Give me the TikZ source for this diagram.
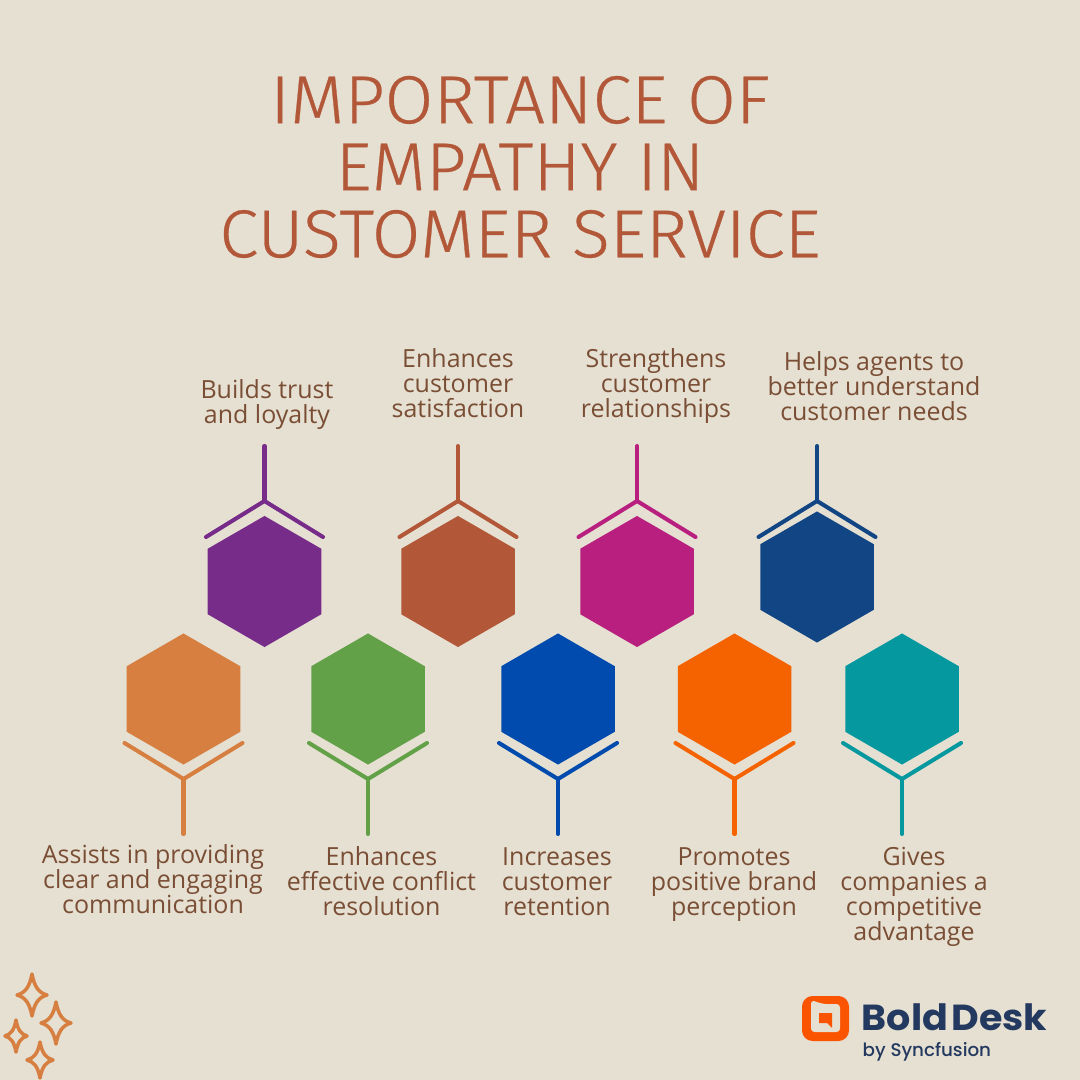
\documentclass[tikz,border=0pt]{standalone}
\usepackage{fontspec}
\usepackage{xcolor}
\usetikzlibrary{shapes.geometric}
\setmainfont{Open Sans}
\newfontfamily\titlefont[UprightFont=* Light, FakeStretch=1.04, FakeBold=.4]{Fira Sans}
\newfontfamily\logofont[UprightFont=* Bold, FakeStretch=1.05]{Poppins}
\newfontfamily\logosubfont[UprightFont=* Medium]{Poppins}
\definecolor{paper}{HTML}{E5E0D2}
\definecolor{titlered}{HTML}{B25738}
\definecolor{labelbrown}{HTML}{7A4E34}
\definecolor{hexpurple}{HTML}{772C8A}
\definecolor{hexrust}{HTML}{B25738}
\definecolor{hexmagenta}{HTML}{B81F7E}
\definecolor{hexnavy}{HTML}{124584}
\definecolor{hexsand}{HTML}{D67F40}
\definecolor{hexgreen}{HTML}{62A148}
\definecolor{hexblue}{HTML}{004BAD}
\definecolor{hexorange}{HTML}{F56200}
\definecolor{hexteal}{HTML}{05989F}
\definecolor{logoink}{HTML}{24395F}
\definecolor{logoorange}{HTML}{FA5400}
\tikzset{hexcell/.style={regular polygon, regular polygon sides=6, shape border rotate=30,
   minimum size=1.31cm, inner sep=0pt, outer sep=0pt},
 chevline/.style={line width=1.15pt, line cap=round, line join=miter},
 sidetext/.style={text=labelbrown, align=center, inner sep=0pt,
   font=\fontsize{7.1}{7.11}\selectfont},
 sparkle/.style={draw=hexsand, line width=1pt, line join=round},
 }

\begin{document}
\begin{tikzpicture}[x=.01cm, y=-.01cm]
        \fill[paper] (0, 0) rectangle (1080, 1080);
        \useasboundingbox (0, 0) rectangle (1080, 1080);
        \node[text=titlered, align=center, inner sep=0pt, font=\titlefont\fontsize{19.3}{19.06}\selectfont] (title) at (520, 167)
            {IMPORTANCE OF\\EMPATHY IN\\CUSTOMER SERVICE};
        % upper row, stems go up
        \foreach \n/\x/\y/\c/\lx/\ly/\txt in {
            trust/264.5/581.5/hexpurple/267/405/{Builds trust\\and loyalty},
            satisfaction/458/581.5/hexrust/458/383.5/{Enhances\\customer\\satisfaction},
            relations/637/581.5/hexmagenta/656/386.5/{Strengthens\\customer\\relationships},
            needs/817/577/hexnavy/874/386/{Helps agents to\\better understand\\customer needs}} {
            \node[hexcell, fill=\c] (hex\n) at (\x, \y) {};
            \node[sidetext] (lab\n) at (\lx, \ly) {\txt};
            \coordinate (apex\n) at (\x, 501);
            \coordinate (stem\n) at (\x, 446);
            \coordinate (wingl\n) at (\x-58.5, 537);
            \coordinate (wingr\n) at (\x+58.5, 537);
            \draw[chevline, \c] (wingl\n) -- (apex\n) -- (wingr\n);
            \draw[chevline, \c] (apex\n) -- (stem\n);
        }
        % lower row, stems go down
        \foreach \n/\x/\y/\c/\lx/\ly/\txt in {
            clear/183.5/699/hexsand/153/879/{Assists in providing\\clear and engaging\\communication},
            conflict/368/699/hexgreen/381.5/881/{Enhances\\effective conflict\\resolution},
            retention/558/699/hexblue/557/882/{Increases\\customer\\retention},
            brand/734.5/699/hexorange/734/885/{Promotes\\positive brand\\perception},
            edge/902/699/hexteal/914/896.5/{Gives\\companies a\\competitive\\advantage}} {
            \node[hexcell, fill=\c] (hex\n) at (\x, \y) {};
            \node[sidetext] (lab\n) at (\lx, \ly) {\txt};
            \coordinate (apex\n) at (\x, 779);
            \coordinate (stem\n) at (\x, 834);
            \coordinate (wingl\n) at (\x-59, 743);
            \coordinate (wingr\n) at (\x+59, 743);
            \draw[chevline, \c] (wingl\n) -- (apex\n) -- (wingr\n);
            \draw[chevline, \c] (apex\n) -- (stem\n);
        }
        % sparkles
        \foreach \x/\y/\rx/\ry in {32/995/15/21, 56/1023/15/21, 16/1036/11/16, 40/1060/13/18} {
            \draw[sparkle] (\x, \y-\ry)
                .. controls (\x+.15*\rx, \y-.4*\ry) and (\x+.45*\rx, \y-.1*\ry) .. (\x+\rx, \y)
                .. controls (\x+.45*\rx, \y+.1*\ry) and (\x+.15*\rx, \y+.4*\ry) .. (\x, \y+\ry)
                .. controls (\x-.15*\rx, \y+.4*\ry) and (\x-.45*\rx, \y+.1*\ry) .. (\x-\rx, \y)
                .. controls (\x-.45*\rx, \y-.1*\ry) and (\x-.15*\rx, \y-.4*\ry) .. cycle;
        }
        % logo
        \fill[logoorange, rounded corners=3pt] (802, 996) rectangle (849, 1041);
        \fill[paper, rounded corners=1pt] (811, 1000) -- (823, 1004) -- (840, 1004) -- (840, 1032) -- (811, 1032) -- cycle;
        \fill[logoorange] (819, 1013) -- (832, 1013) -- (832, 1028) -- (827, 1023) -- (819, 1023) -- cycle;
        \node[anchor=base west, inner sep=0pt, text=logoink, font=\logofont\fontsize{10.3}{10}\selectfont] (logoname) at (861, 1030) {Bold\kern.1em Desk};
        \node[anchor=base west, inner sep=0pt, text=logoink, font=\logosubfont\fontsize{5.2}{6}\selectfont] (logosub) at (862, 1056) {by Syncfusion};
    \end{tikzpicture}
\end{document}
